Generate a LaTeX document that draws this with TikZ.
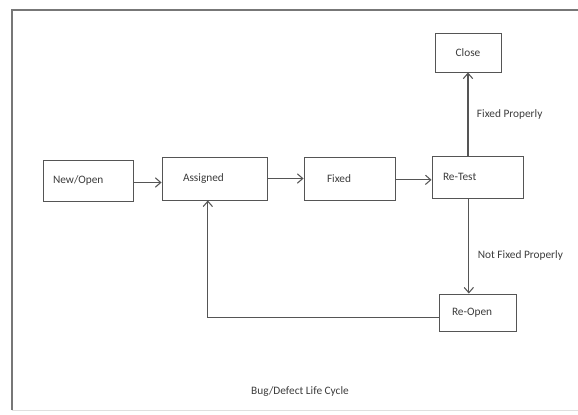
\documentclass[tikz,border=0pt]{standalone}
\usepackage{fontspec}
\setmainfont{Carlito}
\usepackage{xcolor}
\definecolor{linegray}{HTML}{555555}
\definecolor{textgray}{HTML}{3C3C3C}
\usepackage{tikz}
\usetikzlibrary{arrows.meta, positioning, calc}

\begin{document}
\begin{tikzpicture}[x=0.75pt, y=-0.75pt,
    state/.style={draw=linegray, line width=0.7pt, fill=white, text=textgray,
        font=\fontsize{8.5}{10}\selectfont, inner ysep=0pt, align=left},
    flow/.style={draw=linegray, line width=0.8pt, -{Straight Barb[length=4pt, width=7pt]}},
    note/.style={font=\fontsize{8.5}{10}\selectfont, text=textgray}]
    \useasboundingbox (0,0) rectangle (578,414);
    % Frame
    \draw[linegray!80, line width=1pt] (12,410) -- (12,10) -- (578,10);
    \draw[gray!25, line width=0.6pt] (12,410) -- (578,410);
    % States
    \node[state, inner xsep=7.5pt, text width=52.5pt, minimum height=30.75pt] (new) at (88,180.5) {New/Open};
    \node[state, inner xsep=15.75pt, text width=47.25pt, minimum height=32.25pt] (assigned) at (214.5,178.5) {Assigned};
    \node[state, inner xsep=17.25pt, text width=33.75pt, minimum height=32.25pt] (fixed) at (349.5,178.5) {Fixed};
    \node[state, inner xsep=8.25pt, text width=51.75pt, minimum height=31.5pt] (retest) at (477.5,177) {Re-Test};
    \node[state, inner xsep=0pt, align=center, minimum width=49.5pt, minimum height=29.25pt] (close) at (468,52.5) {Close};
    \node[state, inner xsep=9.75pt, text width=38.25pt, minimum height=27.75pt] (reopen) at (477.5,312.5) {Re-Open};
    % Transitions
    \draw[flow] ([yshift=-1.5pt]new.east) -- ([yshift=-1.5pt]new.east -| assigned.west);
    \draw[flow] (assigned.east) -- (assigned.east -| fixed.west);
    \draw[flow] ([yshift=-1pt]fixed.east) -- ([yshift=-1pt]fixed.east -| retest.west);
    \draw[flow] (close.south |- retest.north) -- (close.south)
        node[note, midway, right=3pt] {Fixed Properly};
    \draw[flow] ([xshift=-6.5pt]retest.south) -- ([xshift=-6.5pt]retest.south |- reopen.north)
        node[note, pos=0.6, right=3pt] {Not Fixed Properly};
    \draw[flow] ([yshift=-4pt]reopen.west) -| ([xshift=-5pt]assigned.south);
    % Caption
    \node[note] (caption) at (300,392) {Bug/Defect Life Cycle};
\end{tikzpicture}
\end{document}
